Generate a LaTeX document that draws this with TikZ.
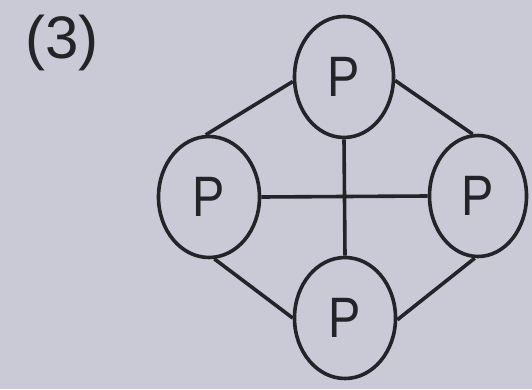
\documentclass[tikz,border=0pt]{standalone}
\usepackage{fontspec}
\setmainfont{Liberation Sans}
\usetikzlibrary{shapes.geometric}
\definecolor{bg}{RGB}{201,202,214}
\definecolor{ink}{RGB}{35,35,40}
\newcommand{\pletter}{\scalebox{0.85}[1]{P}}
\begin{document}
\begin{tikzpicture}[x=1pt,y=1pt,
  pnode/.style={ellipse,draw=ink,line width=3.6pt,minimum width=99pt,minimum height=121pt,inner sep=0pt,text=ink,font=\fontsize{57}{66}\selectfont},
  link/.style={draw=ink,line width=3.6pt}]
\fill[bg] (0,0) rectangle (532,389);
\useasboundingbox (0,0) rectangle (532,389);
\node[text=ink,font=\fontsize{60}{70}\selectfont] (lab) at (62,346) {(3)};
\node[pnode] (top) at (344,312) {\pletter};
\node[pnode,minimum width=101pt] (left) at (209,192) {\pletter};
\node[pnode,minimum width=97pt] (right) at (478,193) {\pletter};
\node[pnode,minimum width=101pt] (bot) at (345,71) {\pletter};
\draw[link] (top.185) -- (left.93);
\draw[link] (top.-4) -- (right.95);
\draw[link] (left.-85) -- (bot.180);
\draw[link] (bot.-2) -- (right.-93);
\draw[link] (left.east) -- (right.west);
\draw[link] (top.south) -- (bot.north);
\end{tikzpicture}
\end{document}
